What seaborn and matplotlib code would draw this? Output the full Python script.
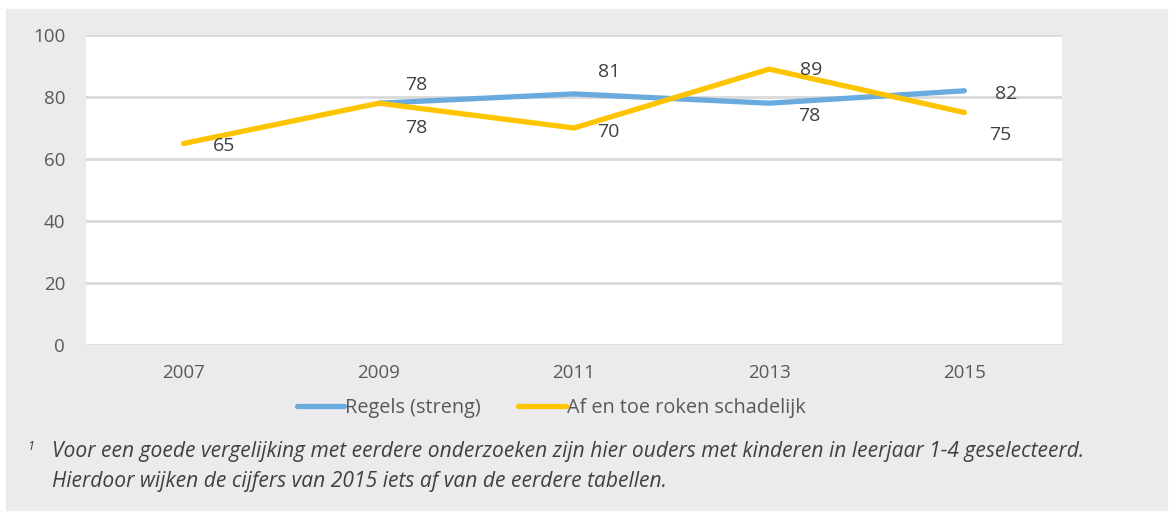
# ==========================================
# IMPORT LIBRARIES
# ==========================================

import pandas as pd
import matplotlib.pyplot as plt
import seaborn as sns

# ==========================================
# DATA
# ==========================================

years = ["2007", "2009", "2011", "2013", "2015"]
regels_streng = [None, 78, 81, 78, 82]
af_en_toe = [65, 78, 70, 89, 75]

series_names = ["Regels (streng)", "Af en toe roken schadelijk"]
y_ticks = [0, 20, 40, 60, 80, 100]

footnote_1 = "Voor een goede vergelijking met eerdere onderzoeken zijn hier ouders met kinderen in leerjaar 1-4 geselecteerd."
footnote_2 = "Hierdoor wijken de cijfers van 2015 iets af van de eerdere tabellen."

# long format for seaborn
df = pd.DataFrame({
    "Jaar": years * 2,
    "Waarde": regels_streng + af_en_toe,
    "Reeks": [series_names[0]] * len(years) + [series_names[1]] * len(years),
}).dropna()
df["Jaar"] = pd.Categorical(df["Jaar"], categories=years, ordered=True)
df["pos"] = df["Jaar"].cat.codes

# ==========================================
# STYLE
# ==========================================

sns.set_style("white")
plt.rcParams["font.family"] = ["Open Sans", "DejaVu Sans"]

bg = "#ebebed"
text_col = "#404040"
colors = {series_names[0]: "#6aabdf", series_names[1]: "#ffc400"}

fig = plt.figure(figsize=(11.73, 5.13), dpi=100)
fig.patch.set_facecolor("white")
fig.add_artist(plt.Rectangle((6 / 1173, 1 - 510 / 513), 1161 / 1173, 501 / 513,
                             transform=fig.transFigure, color=bg, zorder=0))

ax = fig.add_axes([86 / 1173, 1 - 345 / 513, 976 / 1173, 310 / 513])
ax.set_facecolor("white")

sns.lineplot(
    data=df,
    x="pos",
    y="Waarde",
    hue="Reeks",
    hue_order=series_names,
    palette=colors,
    linewidth=3.8,
    ax=ax,
    legend=False,
    zorder=3,
)

ax.set_xlim(-0.5, len(years) - 0.5)
ax.set_xticks(range(len(years)))
ax.set_xticklabels(years)
ax.set_ylim(0, 100)
ax.set_yticks(y_ticks)
ax.grid(axis="y", color="#d9d9d9", linewidth=2)
ax.grid(axis="x", visible=False)
ax.set_axisbelow(True)
for s in ax.spines.values():
    s.set_visible(False)
ax.tick_params(axis="both", length=0, labelsize=13.5, colors="#595959", pad=14)
ax.tick_params(axis="y", pad=15)
ax.set_xlabel("")
ax.set_ylabel("")

# ==========================================
# DATA LABELS
# ==========================================

blue_offsets = [None, (27, 13), (25, 16), (29, -9), (30, -2)]
yellow_offsets = [(29, -2), (27, -18), (25, -3), (30, -1), (26, -16)]

for i, v in enumerate(regels_streng):
    if v is not None:
        ax.annotate(f"{v}", (i, v), xytext=blue_offsets[i], textcoords="offset points",
                    ha="center", va="center", fontsize=14, color=text_col)
for i, v in enumerate(af_en_toe):
    ax.annotate(f"{v}", (i, v), xytext=yellow_offsets[i], textcoords="offset points",
                ha="center", va="center", fontsize=14, color=text_col)

# ==========================================
# LEGEND
# ==========================================

handles = [plt.Line2D([], [], color=colors[n], linewidth=3.8, solid_capstyle="round")
           for n in series_names]
fig.legend(handles, series_names, loc="center", bbox_to_anchor=(551 / 1173, 1 - 408 / 513),
           ncol=2, frameon=False, fontsize=14.3, handlelength=2.4, handletextpad=0.05,
           columnspacing=1.85, labelcolor="#595959")

# ==========================================
# FOOTNOTE
# ==========================================

fig.text(27 / 1173, 1 - 447 / 513, "1", fontsize=9, style="italic", color=text_col,
         ha="left", va="center")
fig.text(52 / 1173, 1 - 452 / 513, footnote_1, fontsize=15.1, style="italic",
         color=text_col, ha="left", va="center")
fig.text(52 / 1173, 1 - 482 / 513, footnote_2, fontsize=15.1, style="italic",
         color=text_col, ha="left", va="center")

plt.savefig("out.png", dpi=100, facecolor=fig.get_facecolor())
